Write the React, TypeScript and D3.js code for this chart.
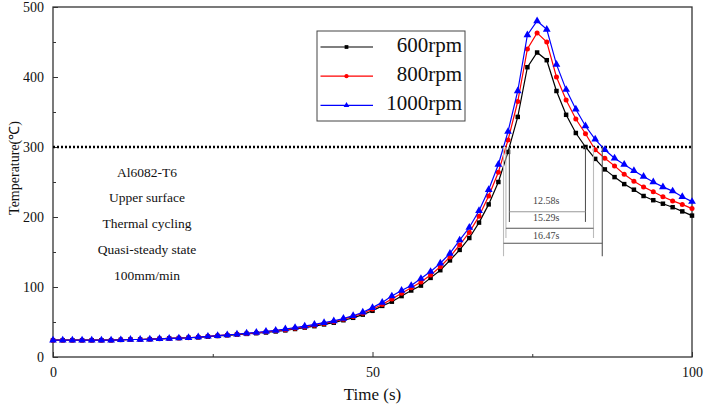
import { useEffect, useRef } from "react";
import * as d3 from "d3";

// sampling times (s)
const times = [
  0, 1.52, 3.03, 4.55, 6.06, 7.58, 9.09, 10.61, 12.12, 13.64, 15.15, 16.67,
  18.18, 19.7, 21.21, 22.73, 24.24, 25.76, 27.27, 28.79, 30.3, 31.82, 33.33,
  34.85, 36.36, 37.88, 39.39, 40.91, 42.42, 43.94, 45.45, 46.97, 48.48, 50.0,
  51.52, 53.03, 54.55, 56.06, 57.58, 59.09, 60.61, 62.12, 63.64, 65.15, 66.67,
  68.18, 69.7, 71.21, 72.73, 74.24, 75.76, 77.27, 78.79, 80.3, 81.82, 83.33,
  84.85, 86.36, 87.88, 89.39, 90.91, 92.42, 93.94, 95.45, 96.97, 98.48, 100,
];

const temp600 = [
  24, 24, 24, 24, 24, 24, 24, 24.5, 25, 25, 25.5, 26, 26.5, 27, 27.5, 28, 29,
  30, 31, 32, 33, 34, 35, 36.5, 38, 40, 42, 44, 46.5, 49, 52.5, 56, 60.5, 66,
  73, 79, 87, 95, 102, 113, 124, 138, 153, 170, 192, 218, 250, 293, 343, 414,
  435, 424, 380, 346, 320, 300, 283, 268, 257, 247, 239, 230, 224, 219, 214,
  208, 202,
];

const temp800 = [
  24, 24, 24, 24, 24, 24, 24, 24.5, 25, 25, 25.5, 26, 26.5, 27, 27.5, 28.5,
  29.5, 30.5, 31.5, 32.5, 33.5, 34.5, 36, 37.5, 39, 41, 43, 45.5, 48, 50.5, 54,
  58, 62.5, 68.5, 75, 83, 91, 99, 107, 117, 129, 143, 160, 178, 201, 230, 264,
  310, 365, 440, 463, 450, 400, 367, 340, 319, 296, 284, 273, 261, 251, 243,
  236, 229, 223, 218, 212,
];

const temp1000 = [
  24, 24, 24, 24, 24, 24, 24, 24.5, 25, 25, 25.5, 26, 26.5, 27, 27.5, 28.5,
  29.5, 30.5, 31.5, 32.5, 34, 35, 36.5, 38, 40, 42, 44, 46.5, 49, 51.5, 55, 59,
  64, 70.5, 78, 87, 95, 102, 112, 122, 134, 148, 167, 185, 209, 239, 275, 322,
  380, 460, 480, 468, 418, 382, 354, 330, 311, 296, 284, 275, 266, 258, 250,
  243, 237, 229, 222,
];

const seriesNames = ["600rpm", "800rpm", "1000rpm"];
const seriesValues = [temp600, temp800, temp1000];
const seriesColors = ["#000000", "#ff0000", "#0000ff"];
const seriesSymbols = [d3.symbolSquare, d3.symbolCircle, d3.symbolTriangle];

const threshold = 300;
const intervalLabels = ["12.58s", "15.29s", "16.47s"];
const noteLines = [
  "Al6082-T6",
  "Upper surface",
  "Thermal cycling",
  "Quasi-steady state",
  "100mm/min",
];

const xTicks = [0, 50, 100];
const xMinor = [25, 75];
const yTicks = [0, 100, 200, 300, 400, 500];
const yMinor = [50, 150, 250, 350, 450];

// time where a series crosses the threshold (rising and falling)
function crossings(vals: number[]): [number, number] {
  let up = 0;
  let down = 0;
  for (let i = 1; i < vals.length; i++) {
    const a = vals[i - 1];
    const b = vals[i];
    if (a < threshold && b >= threshold && !up) {
      up = times[i - 1] + ((threshold - a) / (b - a)) * (times[i] - times[i - 1]);
    }
    if (a >= threshold && b < threshold && !down) {
      down = times[i - 1] + ((a - threshold) / (a - b)) * (times[i] - times[i - 1]);
    }
  }
  return [up, down];
}

export default function App() {
  const svgRef = useRef<SVGSVGElement | null>(null);

  useEffect(() => {
    if (!svgRef.current) return;
    const W = 706;
    const H = 411;
    const margin = { top: 7, right: 14, bottom: 54, left: 53 };
    const width = W - margin.left - margin.right;
    const height = H - margin.top - margin.bottom;
    const font = "Liberation Serif";

    d3.select(svgRef.current).selectAll("*").remove();
    const root = d3
      .select(svgRef.current)
      .attr("width", W)
      .attr("height", H)
      .attr("font-family", font);

    root.append("rect").attr("width", W).attr("height", H).attr("fill", "#fff");

    const svg = root
      .append("g")
      .attr("transform", `translate(${margin.left},${margin.top})`);

    const x = d3.scaleLinear().domain([0, 100]).range([0, width]);
    const y = d3.scaleLinear().domain([0, 500]).range([height, 0]);

    const axisColor = "#333";

    // frame
    svg
      .append("rect")
      .attr("width", width)
      .attr("height", height)
      .attr("fill", "none")
      .attr("stroke", axisColor)
      .attr("stroke-width", 1.3);

    // x ticks (inside)
    svg
      .append("g")
      .attr("transform", `translate(0,${height})`)
      .call(
        d3.axisBottom(x).tickValues(xTicks).tickSize(-5).tickPadding(10)
          .tickFormat(d3.format("d"))
      )
      .call((g) => g.attr("font-family", font))
      .call((g) => g.select(".domain").remove())
      .call((g) => g.selectAll("line").attr("stroke", axisColor))
      .call((g) =>
        g.selectAll("text").attr("font-size", 14).attr("font-family", font).attr("fill", "#111")
      );
    svg
      .append("g")
      .attr("transform", `translate(0,${height})`)
      .call(d3.axisBottom(x).tickValues(xMinor).tickSize(-3).tickFormat(() => ""))
      .call((g) => g.select(".domain").remove())
      .call((g) => g.selectAll("line").attr("stroke", axisColor));

    // y ticks (inside)
    svg
      .append("g")
      .call(
        d3.axisLeft(y).tickValues(yTicks).tickSize(-5).tickPadding(9)
          .tickFormat(d3.format("d"))
      )
      .call((g) => g.attr("font-family", font))
      .call((g) => g.select(".domain").remove())
      .call((g) => g.selectAll("line").attr("stroke", axisColor))
      .call((g) =>
        g.selectAll("text").attr("font-size", 14).attr("font-family", font).attr("fill", "#111")
      );
    svg
      .append("g")
      .call(d3.axisLeft(y).tickValues(yMinor).tickSize(-3).tickFormat(() => ""))
      .call((g) => g.select(".domain").remove())
      .call((g) => g.selectAll("line").attr("stroke", axisColor));

    // axis titles
    svg
      .append("text")
      .text("Time (s)")
      .attr("x", x(50))
      .attr("y", height + 43)
      .attr("text-anchor", "middle")
      .attr("font-family", font)
      .attr("font-size", 17)
      .attr("fill", "#111");

    svg
      .append("text")
      .text("Temperature(℃)")
      .attr("transform", `translate(${16 - margin.left},${y(270)}) rotate(-90)`)
      .attr("text-anchor", "middle")
      .attr("dominant-baseline", "middle")
      .attr("font-family", font)
      .attr("font-size", 14)
      .attr("fill", "#111");

    // threshold dotted line
    svg
      .append("line")
      .attr("x1", 0)
      .attr("x2", width)
      .attr("y1", y(threshold))
      .attr("y2", y(threshold))
      .attr("stroke", "#000")
      .attr("stroke-width", 2.4)
      .attr("stroke-dasharray", "2,2");

    // annotation text block
    svg
      .selectAll("text.note")
      .data(noteLines)
      .enter()
      .append("text")
      .attr("class", "note")
      .text((d) => d)
      .attr("x", 147 - margin.left)
      .attr("y", (_, i) => y(262) + i * 25.8)
      .attr("text-anchor", "middle")
      .attr("dominant-baseline", "middle")
      .attr("font-family", font)
      .attr("font-size", 13.5)
      .attr("fill", "#111");

    // series
    seriesValues.forEach((vals, si) => {
      const pts = vals.map((v, i) => [times[i], v] as [number, number]);
      const line = d3
        .line<[number, number]>()
        .x((d) => x(d[0]))
        .y((d) => y(d[1]));
      svg
        .append("path")
        .datum(pts)
        .attr("fill", "none")
        .attr("stroke", seriesColors[si])
        .attr("stroke-width", 1.2)
        .attr("d", line);
      const sym = d3.symbol().type(seriesSymbols[si]).size(si === 2 ? 26 : 20);
      svg
        .selectAll(`path.m${si}`)
        .data(pts)
        .enter()
        .append("path")
        .attr("class", `m${si}`)
        .attr("d", sym)
        .attr("transform", (d) => `translate(${x(d[0])},${y(d[1])})`)
        .attr("fill", seriesColors[si]);
    });

    // interval brackets
    const bracketDrop = [107, 130, 156]; // bottom of verticals (temperature units)
    const bracketBar = [92.5, 116, 137.5];
    const bracketText = [78, 103, 128];
    const leftShade = ["#555", "#bbb", "#bbb"];
    const rightShade = ["#555", "#bbb", "#555"];
    seriesValues.forEach((vals, si) => {
      const [t0, t1] = crossings(vals);
      const yb = y(threshold) + bracketDrop[si] * 0.7;
      const yh = y(threshold) + bracketBar[si] * 0.7;
      [t0, t1].forEach((t, k) => {
        svg
          .append("line")
          .attr("x1", x(t))
          .attr("x2", x(t))
          .attr("y1", y(threshold))
          .attr("y2", yb)
          .attr("stroke", k === 0 ? leftShade[si] : rightShade[si])
          .attr("stroke-width", 1.1);
      });
      svg
        .append("line")
        .attr("x1", x(t0))
        .attr("x2", x(t1))
        .attr("y1", yh)
        .attr("y2", yh)
        .attr("stroke", si === 0 ? "#999" : "#555")
        .attr("stroke-width", 1.1);
      svg
        .append("text")
        .text(intervalLabels[si])
        .attr("x", x(77.2))
        .attr("y", y(threshold) + bracketText[si] * 0.7)
        .attr("text-anchor", "middle")
        .attr("dominant-baseline", "middle")
        .attr("font-family", font)
        .attr("font-size", 10)
        .attr("fill", "#444");
    });

    // legend
    const lg = svg
      .append("g")
      .attr("transform", `translate(${317 - margin.left},${31 - margin.top})`);
    lg.append("rect")
      .attr("width", 148)
      .attr("height", 90)
      .attr("fill", "#fff")
      .attr("stroke", "#444")
      .attr("stroke-width", 1);
    seriesNames.forEach((name, si) => {
      const ly = 16 + si * 29.2;
      lg.append("line")
        .attr("x1", 3.5)
        .attr("x2", 56)
        .attr("y1", ly)
        .attr("y2", ly)
        .attr("stroke", seriesColors[si])
        .attr("stroke-width", 1.2);
      lg.append("path")
        .attr("d", d3.symbol().type(seriesSymbols[si]).size(14)())
        .attr("transform", `translate(29.5,${ly})`)
        .attr("fill", seriesColors[si]);
      lg.append("text")
        .text(name)
        .attr("x", 145)
        .attr("y", ly)
        .attr("text-anchor", "end")
        .attr("dominant-baseline", "middle")
        .attr("font-family", font)
        .attr("font-size", 21)
        .attr("fill", "#111");
    });
  }, []);

  return (
    <svg
      ref={svgRef}
      style={{ position: "absolute", left: 0, top: 0, display: "block" }}
    />
  );
}
